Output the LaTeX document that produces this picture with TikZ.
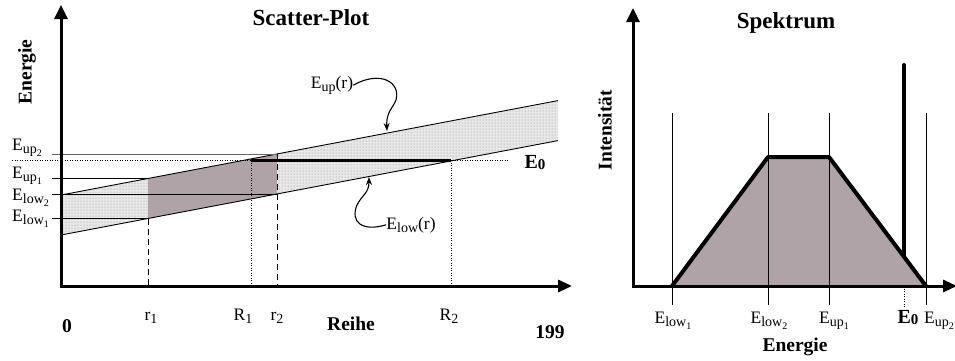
\documentclass[tikz,border=0pt]{standalone}
\usepackage{fontspec}
\setmainfont{Liberation Serif}
\usetikzlibrary{arrows.meta,patterns}
\definecolor{mauve}{RGB}{175,163,167}
\newcommand\sbA[1]{\raisebox{-3.5pt}{\fontsize{14}{14}\selectfont #1}}
\newcommand\sbB[1]{\raisebox{-2.5pt}{\fontsize{10}{10}\selectfont #1}}
\newcommand\Ezero{\textbf{E\raisebox{-1.5pt}{\fontsize{15}{15}\selectfont 0}}}
\tikzset{
  lbl/.style={inner sep=0pt,font=\fontsize{17.5}{20}\selectfont},
  blbl/.style={inner sep=0pt,font=\fontsize{19.5}{22}\selectfont\bfseries},
  ttl/.style={inner sep=0pt,font=\fontsize{23}{26}\selectfont\bfseries},
  axis/.style={line width=3pt,{Triangle[length=14pt,width=13pt]}-{Triangle[length=14pt,width=12pt]}},
  thin/.style={line width=0.9pt},
  dashv/.style={line width=0.9pt,dash pattern=on 6pt off 4pt},
  dotv/.style={line width=0.9pt,dash pattern=on 1pt off 1.5pt},
  curvearrow/.style={line width=1.1pt,-{Stealth[length=8pt,width=6pt]}},
  dotband/.style={fill=gray!18,postaction={pattern=dots,pattern color=gray!90}},
}
\begin{document}
\begin{tikzpicture}[x=1pt,y=-1pt]
\useasboundingbox (0,0) rectangle (955,360);
% ---------------- left: scatter plot ----------------
\coordinate (LO) at (61,286);
\coordinate (LYT) at (61,5);
\coordinate (LXT) at (572,286);
\coordinate (BUL) at (61,195);
\coordinate (BUR) at (558,100.6);
\coordinate (BLL) at (61,235);
\coordinate (BLR) at (558,140.6);
\coordinate (U1) at (148,178.5);
\coordinate (L1) at (148,218.5);
\coordinate (U2) at (277,154);
\coordinate (L2) at (277,194);
\coordinate (r1b) at (148,286);
\coordinate (r2b) at (277,286);
\coordinate (E0a) at (12,160);
\coordinate (E0b) at (508,160);
\coordinate (R1t) at (251,160);
\coordinate (R2t) at (451,160);
\coordinate (R1b) at (251,286);
\coordinate (R2b) at (451,286);
\coordinate (hU2) at (52,154);
\coordinate (hU1) at (52,178.5);
\coordinate (hL2) at (52,194);
\coordinate (hL1) at (52,218.5);

\path[dotband] (BUL) -- (BUR) -- (BLR) -- (BLL) -- cycle;
\fill[mauve] (U1) -- (U2) -- (L2) -- (L1) -- cycle;
\draw[thin] (BUL) -- (BUR);
\draw[thin] (BLL) -- (BLR);
\draw[thin,gray!80!black] (hU2) -- (U2);
\draw[thin] (hU1) -- (U1);
\draw[thin] (hL2) -- (L2);
\draw[thin] (hL1) -- (L1);
\draw[dashv] (L1) -- (r1b);
\draw[dashv] (U2) -- (r2b);
\draw[dotv] (R1t) -- (R1b);
\draw[dotv] (R2t) -- (R2b);
\draw[dotv] (E0a) -- (E0b);
\draw[line width=3pt] (R1t) -- (R2t);
\draw[axis] (LYT) -- (LO) -- (LXT);

\node[ttl,anchor=base] (tsc) at (311,25) {Scatter-Plot};
\node[blbl,rotate=90] (len) at (27,72) {Energie};
\node[lbl,anchor=base west] (lEup2) at (12,150) {E\sbA{up\sbB{2}}};
\node[lbl,anchor=base west] (lEup1) at (12,178) {E\sbA{up\sbB{1}}};
\node[lbl,anchor=base west] (lElow2) at (12,200) {E\sbA{low\sbB{2}}};
\node[lbl,anchor=base west] (lElow1) at (12,221) {E\sbA{low\sbB{1}}};
\node[anchor=base,inner sep=0pt] (lE0) at (535,168) {\fontsize{20}{22}\selectfont\Ezero};
\node[blbl,anchor=base] (l0) at (67,332) {0};
\node[lbl,anchor=base] (lr1) at (151,320) {r\sbA{1}};
\node[lbl,anchor=base] (lR1) at (243,320) {R\sbA{1}};
\node[lbl,anchor=base] (lr2) at (277,320) {r\sbA{2}};
\node[blbl,anchor=base] (lreihe) at (351,330) {Reihe};
\node[lbl,anchor=base] (lR2) at (449,320) {R\sbA{2}};
\node[blbl,anchor=base] (l199) at (550,338) {199};

\node[lbl,anchor=base] (lEupr) at (332,88) {E\sbA{up}(r)};
\coordinate (tipU) at (387,131);
\draw[curvearrow] (lEupr.east) .. controls (380,70) and (401,82) .. (396,100) .. controls (393,108) and (386,112) .. (tipU);
\node[lbl,anchor=base] (lElowr) at (411,229) {E\sbA{low}(r)};
\coordinate (tipL) at (369,177);
\draw[curvearrow] (lElowr.west) .. controls (362,232) and (350,222) .. (357,205) .. controls (362,195) and (369,193) .. (tipL);

% ---------------- right: spectrum ----------------
\coordinate (RO) at (633,286);
\coordinate (RYT) at (633,8);
\coordinate (RXT) at (957,286);
\coordinate (T1) at (672,286);
\coordinate (T2) at (768,157);
\coordinate (T3) at (829,157);
\coordinate (T4) at (926,286);
\coordinate (v1t) at (672,113); \coordinate (v1b) at (672,305);
\coordinate (v2t) at (768,113); \coordinate (v2b) at (768,305);
\coordinate (v3t) at (829,113); \coordinate (v3b) at (829,305);
\coordinate (v4t) at (926,113); \coordinate (v4b) at (926,305);
\coordinate (S1) at (904,65);
\coordinate (S2) at (904,256.7);
\coordinate (S3) at (904,286);
\coordinate (S4) at (904,307);

\fill[mauve] (T1) -- (T2) -- (T3) -- (T4) -- cycle;
\draw[thin] (v1t) -- (v1b);
\draw[thin] (v2t) -- (v2b);
\draw[thin] (v3t) -- (v3b);
\draw[thin] (v4t) -- (v4b);
\draw[dotv] (S3) -- (S4);
\draw[line width=4pt,line join=round] (T1) -- (T2) -- (T3) -- (T4);
\draw[line width=4pt,line cap=round] (S1) -- (S2);
\draw[axis] (RYT) -- (RO) -- (RXT);

\node[ttl,anchor=base] (tsp) at (786,28) {Spektrum};
\node[blbl,rotate=90] (lint) at (605,130) {Intensität};
\node[lbl,anchor=base] (rEl1) at (673,323) {E\sbA{low\sbB{1}}};
\node[lbl,anchor=base] (rEl2) at (769,323) {E\sbA{low\sbB{2}}};
\node[lbl,anchor=base] (rEu1) at (834,323) {E\sbA{up\sbB{1}}};
\node[anchor=base,inner sep=0pt] (rE0) at (908,323) {\fontsize{20}{22}\selectfont\Ezero};
\node[lbl,anchor=base] (rEu2) at (939,323) {E\sbA{up\sbB{2}}};
\node[blbl,anchor=base] (ren) at (795,351) {Energie};
\end{tikzpicture}
\end{document}
